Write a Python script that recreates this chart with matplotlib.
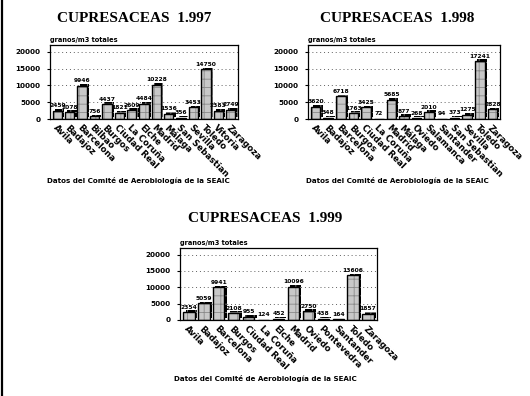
import matplotlib
matplotlib.use("Agg")
import matplotlib.pyplot as plt
import matplotlib.patheffects as pe
from matplotlib.lines import Line2D
import numpy as np

cities_97 = ["Avila", "Badajoz", "Barcelona", "Bilbao", "Burgos", "Ciudad Real",
             "La Coruña", "Elche", "Madrid", "Málaga", "San Sebastian", "Sevilla",
             "Toledo", "Vitoria", "Zaragoza"]
vals_97 = [2459, 2078, 9946, 756, 4437, 1821, 2609, 4484, 10228, 1536, 356, 3453,
           14750, 2383, 2749]

cities_98 = ["Avila", "Badajoz", "Barcelona", "Burgos", "Ciudad Real", "La Coruña",
             "Madrid", "Málaga", "Oviedo", "Salamanca", "Santander", "San Sebastian",
             "Sevilla", "Toledo", "Zaragoza"]
vals_98 = [3620, 348, 6718, 1763, 3425, 72, 5685, 877, 268, 2010, 94, 373, 1275,
           17241, 2828]

cities_99 = ["Avila", "Badajoz", "Barcelona", "Burgos", "Ciudad Real", "La Coruña",
             "Elche", "Madrid", "Oviedo", "Pontevedra", "Santander", "Toledo",
             "Zaragoza"]
vals_99 = [2354, 5059, 9941, 2108, 955, 124, 452, 10096, 2750, 438, 164, 13606, 1857]

yticks = [0, 5000, 10000, 15000, 20000]
font = "DejaVu Sans"
plt.rcParams["hatch.linewidth"] = 0.6

fig = plt.figure(figsize=(5.3, 3.96), dpi=100)


def panel(rect, cities, vals):
    ax = fig.add_axes(rect)
    x = np.arange(len(cities))
    # hatched fill with a dark "depth" shadow behind it, then black outline
    fills = ax.bar(x, vals, width=0.76, color="#c8c8c8", edgecolor="#8a8a8a",
                   hatch="++", linewidth=0, zorder=2)
    for b in fills:
        b.set_path_effects([pe.SimplePatchShadow(offset=(1.6, 1.3),
                                                  shadow_rgbFace="black",
                                                  alpha=1.0),
                            pe.Normal()])
    bars = ax.bar(x, vals, width=0.76, fill=False, edgecolor="black",
                  linewidth=1.0, zorder=3)
    ax.bar_label(bars, labels=[str(v) for v in vals], padding=1.8,
                 fontsize=4.3, fontweight="bold", family=font)
    ax.set_xlim(-0.6, len(cities) - 0.4)
    ax.set_ylim(0, 22000)
    ax.set_yticks(yticks)
    ax.set_yticklabels([str(t) for t in yticks], fontsize=5.2,
                       fontweight="bold", family=font)
    ax.tick_params(axis="y", length=2, width=0.8, pad=5)
    ax.set_xticks(x)
    ax.set_xticklabels(cities, rotation=-45, ha="left", va="top",
                       rotation_mode="anchor", fontsize=6.2,
                       fontweight="bold", family=font)
    ax.tick_params(axis="x", length=0, pad=3)
    for s in ax.spines.values():
        s.set_linewidth(0.9)
    ax.yaxis.grid(True, linestyle=(0, (1, 3)), color="#606060", linewidth=0.7)
    ax.set_axisbelow(True)
    ax.text(0.0, 1.03, "granos/m3 totales", transform=ax.transAxes,
            fontsize=4.8, fontweight="bold", family=font, va="bottom")
    return ax


# positions in figure fraction (530 x 396 px)
ax1 = panel([50 / 530, 277 / 396, 188 / 530, 74 / 396], cities_97, vals_97)
ax2 = panel([308 / 530, 277 / 396, 192 / 530, 74 / 396], cities_98, vals_98)
ax3 = panel([180 / 530, 76 / 396, 197 / 530, 72 / 396], cities_99, vals_99)

title_kw = dict(fontsize=11, fontweight="bold", family="Liberation Serif",
                ha="center", va="center")
fig.text(134 / 530, 1 - 18 / 396, "CUPRESACEAS  1.997", **title_kw)
fig.text(397 / 530, 1 - 18 / 396, "CUPRESACEAS  1.998", **title_kw)
fig.text(265 / 530, 1 - 218 / 396, "CUPRESACEAS  1.999", **title_kw)

foot_kw = dict(fontsize=5.1, fontweight="bold", family=font, ha="center", va="center")
foot = "Datos del Comité de Aerobiología de la SEAIC"
fig.text(138 / 530, 1 - 181 / 396, foot, **foot_kw)
fig.text(397 / 530, 1 - 181 / 396, foot, **foot_kw)
fig.text(265 / 530, 1 - 378 / 396, foot, **foot_kw)

fig.add_artist(Line2D([1.5 / 530, 1.5 / 530], [0, 1], color="black", linewidth=1.6,
                      transform=fig.transFigure))

fig.savefig("out.png", dpi=100)
